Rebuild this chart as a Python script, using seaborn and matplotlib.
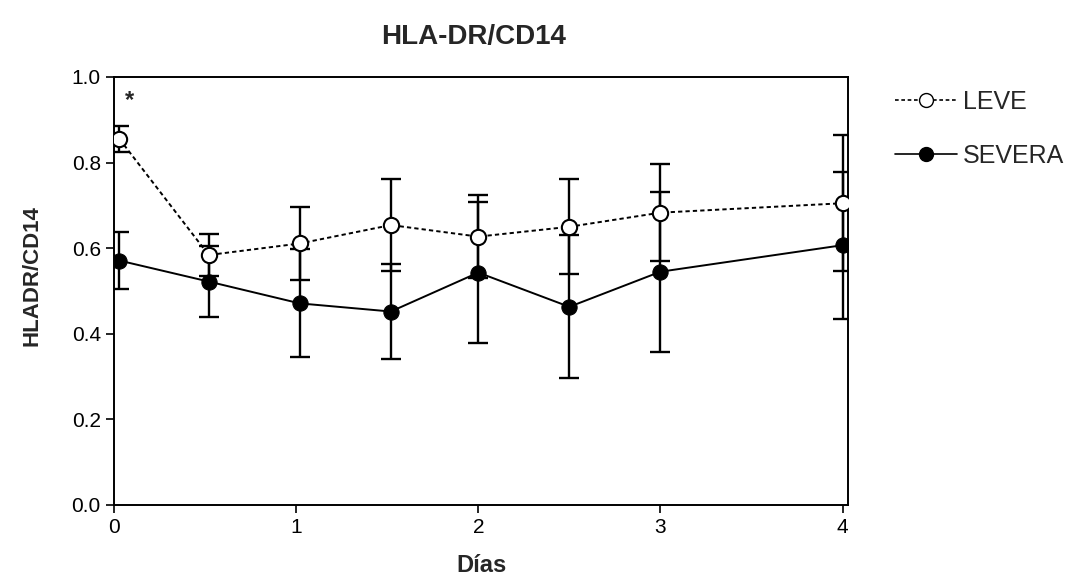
import pandas as pd
import matplotlib.pyplot as plt
import seaborn as sns

# HLA-DR/CD14 over days, two groups (mean +/- error)

dias = [0.03, 0.52, 1.02, 1.52, 2.0, 2.5, 3.0, 4.0]

leve = [0.855, 0.584, 0.611, 0.654, 0.627, 0.650, 0.683, 0.705]
leve_err = [0.030, 0.048, 0.085, 0.107, 0.097, 0.111, 0.114, 0.159]

severa = [0.571, 0.522, 0.471, 0.452, 0.543, 0.463, 0.545, 0.607]
severa_err = [0.066, 0.082, 0.126, 0.110, 0.164, 0.167, 0.187, 0.172]

xticks = [0, 1, 2, 3, 4]
yticks = [0.0, 0.2, 0.4, 0.6, 0.8, 1.0]

df = pd.DataFrame({
    "Dias": dias * 2,
    "valor": leve + severa,
    "grupo": ["LEVE"] * len(dias) + ["SEVERA"] * len(dias),
})

sns.set_style("ticks")
plt.rcParams['font.family'] = ['Liberation Sans', 'DejaVu Sans']

fig = plt.figure(figsize=(10.9, 5.85), dpi=100)
ax = fig.add_axes([0.1046, 0.1368, 0.6734, 0.7316])

# error bars first so the markers sit on top
ax.errorbar(dias, leve, yerr=leve_err, fmt="none", ecolor="black",
            elinewidth=1.7, capsize=7, capthick=1.7, zorder=2)
ax.errorbar(dias, severa, yerr=severa_err, fmt="none", ecolor="black",
            elinewidth=1.7, capsize=7, capthick=1.7, zorder=2)

sns.lineplot(data=df, x="Dias", y="valor", hue="grupo", style="grupo",
             palette={"LEVE": "black", "SEVERA": "black"},
             dashes={"LEVE": (2.2, 1.6), "SEVERA": ""},
             markers={"LEVE": "o", "SEVERA": "o"},
             markersize=11, linewidth=1.4, ax=ax, zorder=3, legend=False)

# open circles for LEVE
lines = ax.get_lines()
lines[-2].set_markerfacecolor("white")
lines[-2].set_markeredgecolor("black")
lines[-2].set_markeredgewidth(1.5)
lines[-1].set_markerfacecolor("black")
lines[-1].set_markeredgecolor("black")

ax.set_xlim(0, 4.03)
ax.set_ylim(0, 1.0)
ax.set_xticks(xticks)
ax.set_xticklabels([str(t) for t in xticks])
ax.set_yticks(yticks)
ax.set_yticklabels([f"{t:.1f}" for t in yticks])
ax.tick_params(axis="both", labelsize=15, length=6, width=1.2, colors="black")
for s in ax.spines.values():
    s.set_linewidth(1.4)
    s.set_color("black")

ax.set_xlabel("Días", fontsize=17, fontweight="bold", labelpad=12)
ax.set_ylabel("HLADR/CD14", fontsize=16, fontweight="bold")
ax.yaxis.set_label_coords(-0.098, 0.537)
ax.set_title("HLA-DR/CD14", fontsize=20, fontweight="bold", pad=24, x=0.49)

ax.text(0.085, 0.945, "*", fontsize=17, fontweight="bold", ha="center", va="center")

h1 = plt.Line2D([], [], color="black", linestyle=(0, (2.2, 1.6)), linewidth=1.2,
                marker="o", markersize=10, markerfacecolor="white", markeredgecolor="black")
h2 = plt.Line2D([], [], color="black", linestyle="-", linewidth=1.2,
                marker="o", markersize=10, markerfacecolor="black", markeredgecolor="black")
leg = fig.legend([h1, h2], ["LEVE", "SEVERA"], loc="upper left",
                 bbox_to_anchor=(0.8, 0.885), frameon=False, fontsize=18,
                 handlelength=2.5, handletextpad=0.25, labelspacing=1.2)

fig.savefig("out.png", dpi=100)
